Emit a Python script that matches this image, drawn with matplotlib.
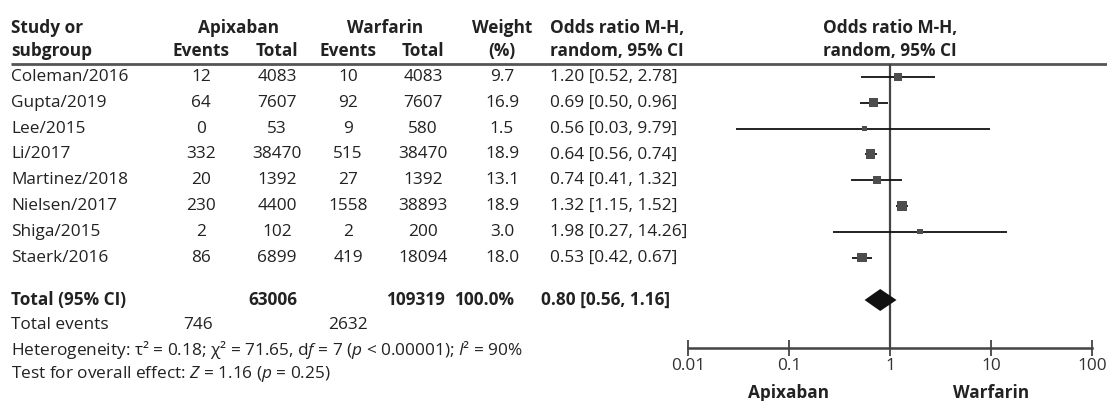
import matplotlib
matplotlib.use("Agg")
import matplotlib.pyplot as plt
import numpy as np

# ---------------- data ----------------
studies = ["Coleman/2016", "Gupta/2019", "Lee/2015", "Li/2017", "Martinez/2018",
           "Nielsen/2017", "Shiga/2015", "Staerk/2016"]
apix_events = [12, 64, 0, 332, 20, 230, 2, 86]
apix_total = [4083, 7607, 53, 38470, 1392, 4400, 102, 6899]
warf_events = [10, 92, 9, 515, 27, 1558, 2, 419]
warf_total = [4083, 7607, 580, 38470, 1392, 38893, 200, 18094]
weights = [9.7, 16.9, 1.5, 18.9, 13.1, 18.9, 3.0, 18.0]
odds = [1.20, 0.69, 0.56, 0.64, 0.74, 1.32, 1.98, 0.53]
ci_lo = [0.52, 0.50, 0.03, 0.56, 0.41, 1.15, 0.27, 0.42]
ci_hi = [2.78, 0.96, 9.79, 0.74, 1.32, 1.52, 14.26, 0.67]

total_or, total_lo, total_hi = 0.80, 0.56, 1.16
total_apix, total_warf = 63006, 109319
total_weight = "100.0%"
events_apix, events_warf = 746, 2632
tick_vals = [0.01, 0.1, 1, 10, 100]
tick_labels = ["0.01", "0.1", "1", "10", "100"]

# ---------------- style ----------------
FONT = "Open Sans"
plt.rcParams["font.family"] = [FONT, "DejaVu Sans"]
plt.rcParams["mathtext.fontset"] = "custom"
plt.rcParams["mathtext.rm"] = FONT
plt.rcParams["mathtext.it"] = FONT + ":italic"
plt.rcParams["mathtext.bf"] = FONT + ":bold"
FS = 12.4
TXT = "#222222"
W, H = 1107, 401

fig = plt.figure(figsize=(W / 100, H / 100), dpi=100)
ax = fig.add_axes([0, 0, 1, 1])
ax.set_xlim(0, W)
ax.set_ylim(H, 0)
ax.axis("off")

# layout (pixels)
hdr1, hdr2, hline = 28, 51, 64
row_y = [77 + 25.8 * i for i in range(len(studies))]
y_total, y_events, y_het, y_test = 300, 325, 350, 374
x_study = 11
x_ae, x_at, x_we, x_wt, x_w, x_or = 201, 277, 348, 423, 502, 550

def t(x, y, s, ha="center", bold=False, **kw):
    ax.text(x, y, s, ha=ha, va="center", fontsize=FS, color=TXT,
            fontweight="bold" if bold else "normal", **kw)

# headers
t(x_study, hdr1, "Study or", ha="left", bold=True)
t(x_study, hdr2, "subgroup", ha="left", bold=True)
t((x_ae + x_at) / 2, hdr1, "Apixaban", bold=True)
t(x_ae, hdr2, "Events", bold=True)
t(x_at, hdr2, "Total", bold=True)
t((x_we + x_wt) / 2, hdr1, "Warfarin", bold=True)
t(x_we, hdr2, "Events", bold=True)
t(x_wt, hdr2, "Total", bold=True)
t(x_w, hdr1, "Weight", bold=True)
t(x_w, hdr2, "(%)", bold=True)
t(x_or, hdr1, "Odds ratio M-H,", ha="left", bold=True)
t(x_or, hdr2, "random, 95% CI", ha="left", bold=True)
ax.hlines(hline, x_study, W, color="#555555", lw=2)

# rows
for i, name in enumerate(studies):
    y = row_y[i]
    t(x_study, y, name, ha="left")
    t(x_ae, y, str(apix_events[i]))
    t(x_at, y, str(apix_total[i]))
    t(x_we, y, str(warf_events[i]))
    t(x_wt, y, str(warf_total[i]))
    t(x_w, y, f"{weights[i]:.1f}")
    t(x_or, y, f"{odds[i]:.2f} [{ci_lo[i]:.2f}, {ci_hi[i]:.2f}]", ha="left")

# totals
t(x_study, y_total, "Total (95% CI)", ha="left", bold=True)
t(x_at - 4, y_total, str(total_apix), bold=True)
t(x_wt - 8, y_total, str(total_warf), bold=True)
t(x_w - 18, y_total, total_weight, bold=True)
t(x_or - 9, y_total, f"{total_or:.2f} [{total_lo:.2f}, {total_hi:.2f}]", ha="left", bold=True)
t(x_study, y_events, "Total events", ha="left")
t(x_ae - 3, y_events, str(events_apix))
t(x_we, y_events, str(events_warf))
t(x_study, y_het, r"Heterogeneity: τ² = 0.18; χ² = 71.65, d$\mathit{f}$ = 7 ($\mathit{p}$ < 0.00001); $\mathit{I}$² = 90%", ha="left")
t(x_study, y_test, r"Test for overall effect: $\mathit{Z}$ = 1.16 ($\mathit{p}$ = 0.25)", ha="left")

# ---------------- forest plot ----------------
x0, x1 = 688, 1092
ax2 = fig.add_axes([x0 / W, 0, (x1 - x0) / W, 1])
ax2.set_xscale("log")
ax2.set_xlim(tick_vals[0], tick_vals[-1])
ax2.set_ylim(H, 0)
ax2.patch.set_alpha(0)
for sp in ["top", "left", "right"]:
    ax2.spines[sp].set_visible(False)
y_axis = 348
ax2.spines["bottom"].set_position(("data", y_axis))
ax2.spines["bottom"].set_color("#444444")
ax2.spines["bottom"].set_linewidth(1.8)
ax2.set_yticks([])
ax2.set_xticks(tick_vals)
ax2.set_xticklabels(tick_labels)
ax2.xaxis.set_minor_locator(matplotlib.ticker.NullLocator())
ax2.tick_params(axis="x", direction="inout", length=11, width=1.3, color="#444444",
                labelsize=FS, labelcolor="#333333", pad=2)

ax2.vlines(1, hline, y_axis, color="#444444", lw=1.6, zorder=2)
ax2.hlines(row_y, ci_lo, ci_hi, color="#111111", lw=1.3, zorder=3)
sides = 2.0 + 1.8 * np.sqrt(np.array(weights))
ax2.scatter(odds, row_y, marker="s", s=(sides * 0.72) ** 2, color="#4d4d4d",
            linewidths=0, zorder=4)
dh = 11
ax2.fill([total_lo, total_or, total_hi, total_or],
         [y_total, y_total - dh, y_total, y_total + dh], color="#111111", zorder=4,
         lw=0)
ax2.text(0.1, 393, "Apixaban", ha="center", va="center", fontsize=FS,
         fontweight="bold", color=TXT)
ax2.text(10, 393, "Warfarin", ha="center", va="center", fontsize=FS,
         fontweight="bold", color=TXT)
ax2.text(1, hdr1, "Odds ratio M-H,", ha="center", va="center", fontsize=FS,
         fontweight="bold", color=TXT)
ax2.text(1, hdr2, "random, 95% CI", ha="center", va="center", fontsize=FS,
         fontweight="bold", color=TXT)

fig.savefig("out.png", dpi=100)
